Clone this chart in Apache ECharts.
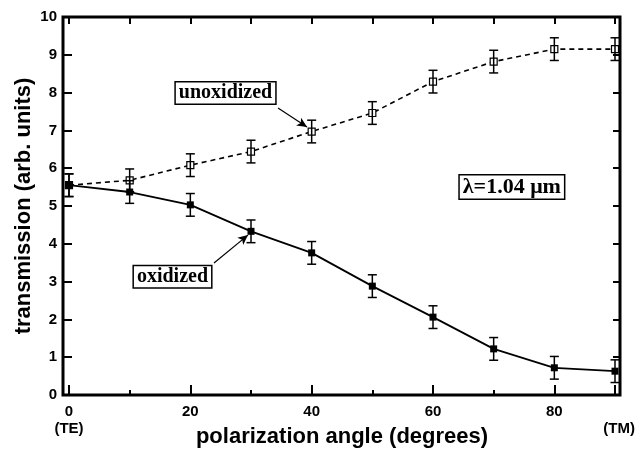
<!DOCTYPE html>
<html>
<head>
<meta charset="utf-8">
<script src="https://cdn.jsdelivr.net/npm/echarts@6/dist/echarts.min.js"></script>
<style>
  html, body { margin: 0; padding: 0; background: #fff; }
  #chart { width: 639px; height: 450px; }
</style>
</head>
<body>
<div id="chart"></div>
<script>
// values
var angles = [0, 10, 20, 30, 40, 50, 60, 70, 80, 90];
var unoxidized = [5.55, 5.68, 6.08, 6.44, 6.97, 7.46, 8.29, 8.82, 9.15, 9.15];
var oxidized = [5.55, 5.37, 5.03, 4.33, 3.76, 2.88, 2.06, 1.22, 0.72, 0.63];
var unoxErr = [0.3, 0.3, 0.3, 0.3, 0.3, 0.3, 0.3, 0.3, 0.3, 0.3];
var oxErr = [0.3, 0.3, 0.3, 0.3, 0.3, 0.3, 0.3, 0.3, 0.3, 0.3];

var sans = 'Liberation Sans';
var serif = 'Liberation Serif';

function pairs(vals) {
  return angles.map(function(a, i) { return [a, vals[i]]; });
}
function bars(vals, errs) {
  return angles.map(function(a, i) { return [a, vals[i] - errs[i], vals[i] + errs[i]]; });
}

function renderBar(params, api) {
  var x = api.value(0);
  var lo = api.coord([x, api.value(1)]);
  var hi = api.coord([x, api.value(2)]);
  var w = 4.5;
  var st = { stroke: '#000', lineWidth: 1.5, fill: null };
  return {
    type: 'group',
    children: [
      { type: 'line', shape: { x1: lo[0], y1: lo[1], x2: hi[0], y2: hi[1] }, style: st },
      { type: 'line', shape: { x1: lo[0] - w, y1: lo[1], x2: lo[0] + w, y2: lo[1] }, style: st },
      { type: 'line', shape: { x1: hi[0] - w, y1: hi[1], x2: hi[0] + w, y2: hi[1] }, style: st }
    ]
  };
}

function boxLabel(text, coord, size) {
  return {
    coord: coord,
    symbol: 'rect',
    symbolSize: 1,
    itemStyle: { color: 'rgba(0,0,0,0)' },
    label: {
      show: true,
      position: 'inside',
      formatter: text,
      fontFamily: serif,
      fontWeight: 'bold',
      fontSize: size,
      color: '#000',
      backgroundColor: '#fff',
      borderColor: '#000',
      borderWidth: 1.5,
      padding: [1, 3, 0, 3]
    }
  };
}

function arrow(from, to) {
  return [{ coord: from }, { coord: to }];
}

var chart = echarts.init(document.getElementById('chart'));

var option = {
  animation: false,
  grid: [
    { left: 63, right: 19, top: 17, bottom: 55, show: true, borderColor: '#000', borderWidth: 3,
      backgroundColor: 'transparent', outerBoundsMode: 'none' },
    { left: 69, right: 24, top: 17, bottom: 55, outerBoundsMode: 'none' }
  ],
  xAxis: [
    { gridIndex: 0, type: 'value', min: 0, max: 1, show: false },
    {
      gridIndex: 1, type: 'value', position: 'bottom', min: 0, max: 90, interval: 10,
      axisLine: { show: false },
      splitLine: { show: false },
      axisTick: { inside: true, length: 5, lineStyle: { color: '#000', width: 2 } },
      axisLabel: {
        margin: 8,
        fontFamily: sans, fontWeight: 'bold', fontSize: 15, color: '#000', lineHeight: 17,
        formatter: function(v) {
          if (v === 0) return '0\n(TE)';
          if (v === 90) return ' \n  (TM)';
          return v % 20 === 0 ? String(v) : '';
        }
      },
      name: 'polarization angle (degrees)',
      nameLocation: 'middle',
      nameGap: 31,
      nameMoveOverlap: false,
      nameTextStyle: { fontFamily: sans, fontWeight: 'bold', fontSize: 22, color: '#000' }
    },
    {
      gridIndex: 1, type: 'value', position: 'bottom', min: 0, max: 90, interval: 20,
      axisLine: { show: false },
      splitLine: { show: false },
      axisLabel: { show: false },
      axisTick: { inside: true, length: 10, lineStyle: { color: '#000', width: 2 } }
    },
    {
      gridIndex: 1, type: 'value', position: 'top', min: 0, max: 90, interval: 10,
      axisLine: { show: false },
      splitLine: { show: false },
      axisLabel: { show: false },
      axisTick: { inside: true, length: 7, lineStyle: { color: '#000', width: 2 } }
    }
  ],
  yAxis: [
    {
      gridIndex: 0, type: 'value', position: 'left', min: 0, max: 10, interval: 1,
      axisLine: { show: false },
      splitLine: { show: false },
      axisTick: { inside: true, length: 9, lineStyle: { color: '#000', width: 2 } },
      axisLabel: { margin: 6, fontFamily: sans, fontWeight: 'bold', fontSize: 15, color: '#000' },
      name: 'transmission (arb. units)',
      nameLocation: 'middle',
      nameGap: 28,
      nameMoveOverlap: false,
      nameTextStyle: { fontFamily: sans, fontWeight: 'bold', fontSize: 22, color: '#000' }
    },
    {
      gridIndex: 0, type: 'value', position: 'right', min: 0, max: 10, interval: 1,
      axisLine: { show: false },
      splitLine: { show: false },
      axisTick: { inside: true, length: 7, lineStyle: { color: '#000', width: 2 } },
      axisLabel: { show: false }
    },
    { gridIndex: 1, type: 'value', min: 0, max: 10, show: false }
  ],
  series: [
    {
      name: 'unoxidized',
      type: 'line',
      xAxisIndex: 1, yAxisIndex: 2,
      data: pairs(unoxidized),
      symbol: 'rect',
      symbolSize: 7,
      lineStyle: { color: '#000', width: 1.6, type: [5, 4] },
      itemStyle: { color: '#fff', borderColor: '#000', borderWidth: 1.2 },
      z: 2,
      markPoint: {
        data: [boxLabel('unoxidized', [25.8, 7.99], 20)]
      },
      markLine: {
        silent: true,
        symbol: ['none', 'arrow'],
        symbolSize: [7, 10],
        label: { show: false },
        lineStyle: { color: '#000', width: 1.2, type: 'solid' },
        data: [arrow([34.45, 7.59], [39.23, 7.09])]
      }
    },
    {
      name: 'oxidized',
      type: 'line',
      xAxisIndex: 1, yAxisIndex: 2,
      data: pairs(oxidized),
      symbol: 'rect',
      symbolSize: 7,
      lineStyle: { color: '#000', width: 1.8 },
      itemStyle: { color: '#000' },
      z: 2,
      markPoint: {
        data: [
          boxLabel('oxidized', [17.06, 3.13], 20),
          boxLabel('λ=1.04 μm', [73.0, 5.5], 22)
        ]
      },
      markLine: {
        silent: true,
        symbol: ['none', 'arrow'],
        symbolSize: [7, 10],
        label: { show: false },
        lineStyle: { color: '#000', width: 1.2, type: 'solid' },
        data: [arrow([23.9, 3.49], [29.5, 4.23])]
      }
    },
    {
      type: 'custom',
      xAxisIndex: 1, yAxisIndex: 2,
      renderItem: renderBar,
      encode: { x: 0, y: [1, 2] },
      data: bars(unoxidized, unoxErr),
      z: 3
    },
    {
      type: 'custom',
      xAxisIndex: 1, yAxisIndex: 2,
      renderItem: renderBar,
      encode: { x: 0, y: [1, 2] },
      data: bars(oxidized, oxErr),
      z: 3
    }
  ]
};

chart.setOption(option);
</script>
</body>
</html>
